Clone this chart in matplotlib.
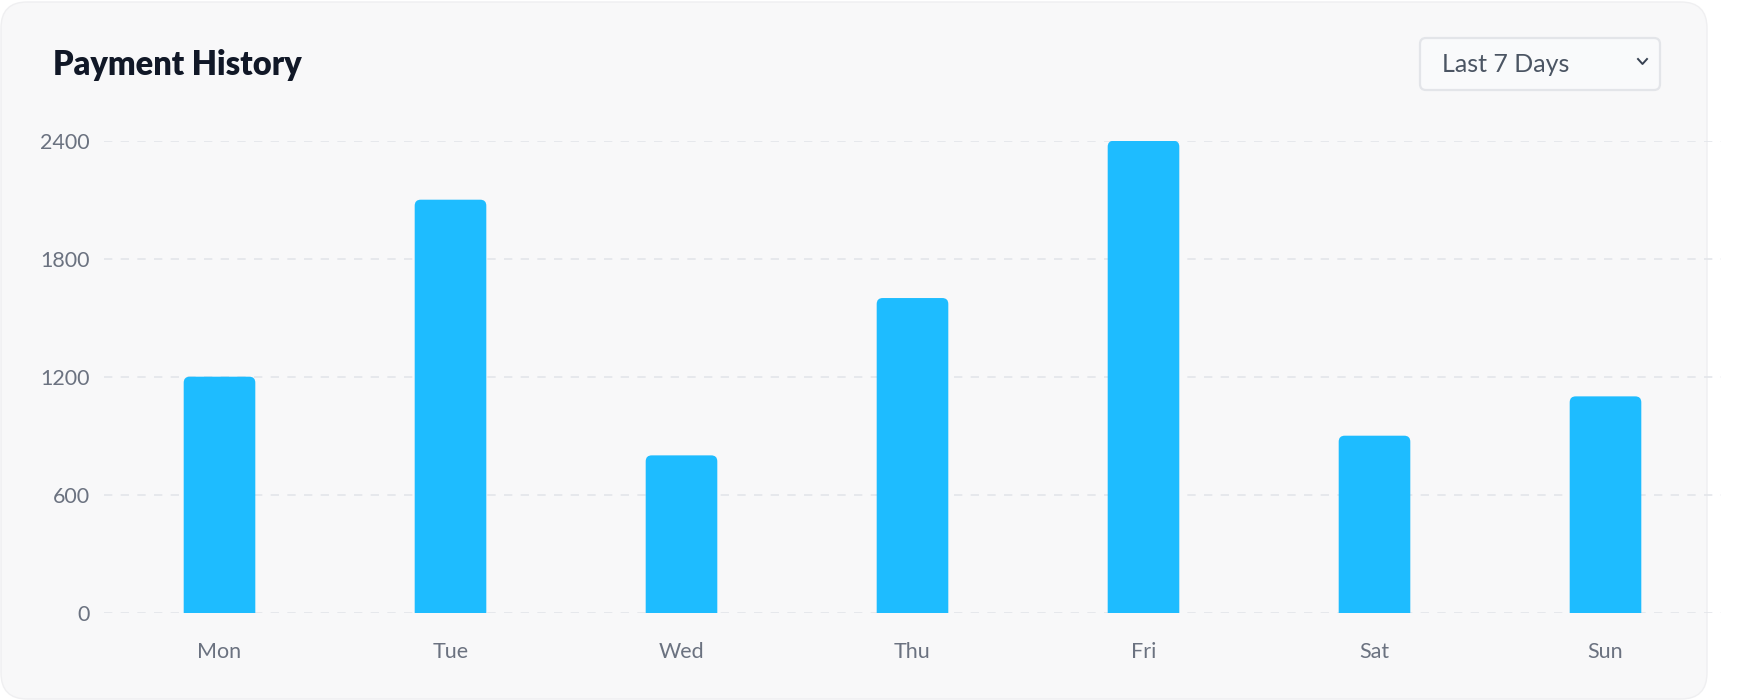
import numpy as np
import matplotlib
matplotlib.use('Agg')
import matplotlib.pyplot as plt
from matplotlib.patches import FancyBboxPatch
from matplotlib.lines import Line2D
from matplotlib.transforms import IdentityTransform

days = ['Mon', 'Tue', 'Wed', 'Thu', 'Fri', 'Sat', 'Sun']
payments = [1200, 2100, 800, 1600, 2400, 900, 1100]
y_ticks = [0, 600, 1200, 1800, 2400]
title = 'Payment History'
range_label = 'Last 7 Days'

W, H = 1741, 700
plt.rcParams['font.family'] = ['Lato', 'DejaVu Sans']

fig = plt.figure(figsize=(W / 100, H / 100), dpi=100)
fig.patch.set_facecolor('white')
px = IdentityTransform()

# card background (pixel coords, origin bottom-left)
card = FancyBboxPatch((1, 1), 1706, 697, boxstyle='round,pad=0,rounding_size=26',
                      transform=px, facecolor='#f8f8f9', edgecolor='#efeff1',
                      linewidth=1, zorder=-10)
fig.patches.append(card)

ax = fig.add_axes([104 / W, 1 - 612.7 / H, (1721 - 104) / W, (612.7 - 140.7) / H])
ax.set_facecolor('none')
ax.set_xlim(-0.5, len(days) - 0.5)
ax.set_ylim(0, 2400)

# rounded bar tops: radius in px converted to data units
bar_w = 0.31
ax_w_px = (1721 - 104)
ax_h_px = (612.7 - 140.7)
rx = 6 / ax_w_px * len(days)
ry = 6 / ax_h_px * 2400
for i, v in enumerate(payments):
    p = FancyBboxPatch((i - bar_w / 2, -ry * 2), bar_w, v + ry * 2,
                       boxstyle=f'round,pad=0,rounding_size={rx}',
                       mutation_aspect=ry / rx,
                       facecolor='#1ebcff', edgecolor='none', zorder=3)
    ax.add_patch(p)

ax.set_yticks(y_ticks)
ax.set_yticklabels([str(t) for t in y_ticks])
ax.set_xticks(range(len(days)))
ax.set_xticklabels(days)
ax.yaxis.grid(True, color='#e3e5ea', linestyle=(0, (5, 5)), linewidth=1.2, zorder=0)
ax.set_axisbelow(True)
for s in ax.spines.values():
    s.set_visible(False)
ax.tick_params(axis='y', length=0, pad=10, labelsize=15.5, labelcolor='#6b7280')
ax.tick_params(axis='x', length=0, pad=21, labelsize=15.5, labelcolor='#6b7280')

# title
fig.text(53 / W, 1 - 75 / H, title, fontsize=23.5, fontweight='heavy',
         color='#111827', ha='left', va='baseline')

# dropdown
box = FancyBboxPatch((1420, H - 90), 240, 52, boxstyle='round,pad=0,rounding_size=6',
                     transform=px, facecolor='#f9fafb', edgecolor='#e3e5e9',
                     linewidth=1.6, zorder=2)
fig.patches.append(box)
fig.text(1442 / W, 1 - 65 / H, range_label, fontsize=18, color='#4b5563',
         ha='left', va='center', zorder=5)
chev = Line2D([1638, 1642.5, 1647], [H - 59, H - 64, H - 59], transform=px,
              color='#374151', linewidth=1.4, zorder=6)
fig.lines.append(chev)

fig.savefig('out.png', dpi=100, facecolor='white')
